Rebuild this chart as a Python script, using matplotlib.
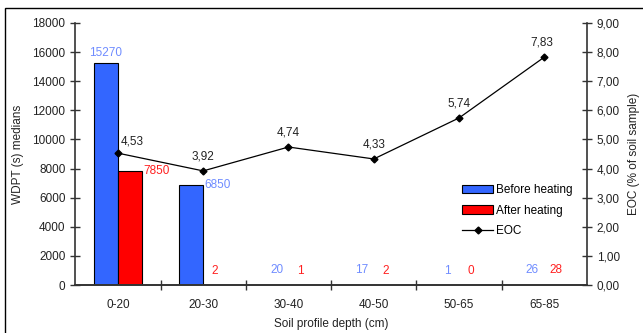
import matplotlib
matplotlib.use("Agg")
import matplotlib.pyplot as plt
from matplotlib.patches import Rectangle
from matplotlib.lines import Line2D
from matplotlib.ticker import FuncFormatter, FixedLocator

plt.rcParams['font.family'] = ['Liberation Sans', 'DejaVu Sans']

categories = ["0-20", "20-30", "30-40", "40-50", "50-65", "65-85"]
before = [15270, 6850, 20, 17, 1, 26]
after = [7850, 2, 1, 2, 0, 28]
eoc = [4.53, 3.92, 4.74, 4.33, 5.74, 7.83]

BLUE = "#3366ff"
RED = "#ff0000"
BLUE_TXT = "#6f8cff"
RED_TXT = "#ff2020"
AX_COL = "#333333"

fig = plt.figure(figsize=(6.43, 3.33), dpi=100)
ax = fig.add_axes([0.117, 0.144, 0.796, 0.787])
ax2 = ax.twinx()

x = list(range(len(categories)))
w = 0.28
ax.bar([i - w / 2 for i in x], before, width=w, color=BLUE, edgecolor="black", linewidth=0.8, zorder=2)
ax.bar([i + w / 2 for i in x], after, width=w, color=RED, edgecolor="black", linewidth=0.8, zorder=2)

fs = 8.5
for i, (b, a) in enumerate(zip(before, after)):
    if b > 10000:
        ax.annotate(str(b), (i - w / 2, b), xytext=(0, 3), textcoords="offset points",
                    ha="center", va="bottom", color=BLUE_TXT, fontsize=fs)
    elif b > 3000:
        ax.annotate(str(b), (i, b), xytext=(1, 0), textcoords="offset points",
                    ha="left", va="center", color=BLUE_TXT, fontsize=fs)
    else:
        ax.annotate(str(b), (i - w / 2, b), xytext=(0, 6), textcoords="offset points",
                    ha="center", va="bottom", color=BLUE_TXT, fontsize=fs)
    if a > 3000:
        ax.annotate(str(a), (i + w, a), xytext=(1, 0), textcoords="offset points",
                    ha="left", va="center", color=RED_TXT, fontsize=fs)
    else:
        ax.annotate(str(a), (i + w / 2, a), xytext=(0, 6), textcoords="offset points",
                    ha="center", va="bottom", color=RED_TXT, fontsize=fs)

ax2.plot(x, eoc, color="black", linewidth=0.9, marker="D", markersize=3.5, zorder=3)
for i, v in enumerate(eoc):
    if i == 0:
        ax2.annotate(f"{v:.2f}".replace(".", ","), (i, v), xytext=(2, 4), textcoords="offset points",
                     ha="left", va="bottom", color="#222222", fontsize=fs)
    else:
        ax2.annotate(f"{v:.2f}".replace(".", ","), (i, v), xytext=(-2 if i == 5 else 0, 6),
                     textcoords="offset points", ha="center", va="bottom", color="#222222", fontsize=fs)

ax.set_xlim(-0.5, len(categories) - 0.5)
ax.set_ylim(0, 18000)
ax.set_yticks(range(0, 18001, 2000))
ax2.set_ylim(0, 9)
ax2.set_yticks(range(0, 10))
ax2.yaxis.set_major_formatter(FuncFormatter(lambda v, p: f"{v:.2f}".replace(".", ",")))

ax.xaxis.set_major_locator(FixedLocator([i + 0.5 for i in range(len(categories) - 1)]))
ax.set_xticklabels([])
ax.xaxis.set_minor_locator(FixedLocator(x))
ax.set_xticklabels(categories, minor=True)
ax.tick_params(axis="x", which="major", direction="inout", length=7, width=1, color=AX_COL)
ax.tick_params(axis="x", which="minor", length=0, pad=10, labelsize=fs, labelcolor="#222222")
ax.tick_params(axis="y", direction="inout", length=7, width=1, color=AX_COL, labelsize=fs, labelcolor="#222222")
ax2.tick_params(axis="y", direction="inout", length=7, width=1, color=AX_COL, labelsize=fs, labelcolor="#222222")

for a in (ax, ax2):
    a.spines["top"].set_visible(False)
    for s in ("left", "right", "bottom"):
        a.spines[s].set_color(AX_COL)
        a.spines[s].set_linewidth(1.2)
ax2.spines["left"].set_visible(False)
ax.spines["right"].set_visible(False)

ax.set_ylabel("WDPT (s) medians", fontsize=fs, color="#222222", labelpad=6)
ax2.set_ylabel("EOC (% of soil sample)", fontsize=fs, color="#222222", labelpad=6)
ax.set_xlabel("Soil profile depth (cm)", fontsize=fs, color="#222222", labelpad=5)

handles = [
    Rectangle((0, 0), 1, 1, facecolor=BLUE, edgecolor="black", linewidth=0.8),
    Rectangle((0, 0), 1, 1, facecolor=RED, edgecolor="black", linewidth=0.8),
    Line2D([], [], color="black", linewidth=0.9, marker="D", markersize=3.5),
]
ax2.legend(handles, ["Before heating", "After heating", "EOC"], loc="lower left",
           bbox_to_anchor=(0.74, 0.15), frameon=False, fontsize=fs,
           handlelength=2.6, handleheight=0.7, handletextpad=0.3, labelspacing=0.75, borderpad=0.2)

fig.patches.append(Rectangle((0.008, -0.1), 1.2, 1.076, transform=fig.transFigure,
                             fill=False, edgecolor="black", linewidth=1.0))

fig.savefig("out.png", dpi=100)
